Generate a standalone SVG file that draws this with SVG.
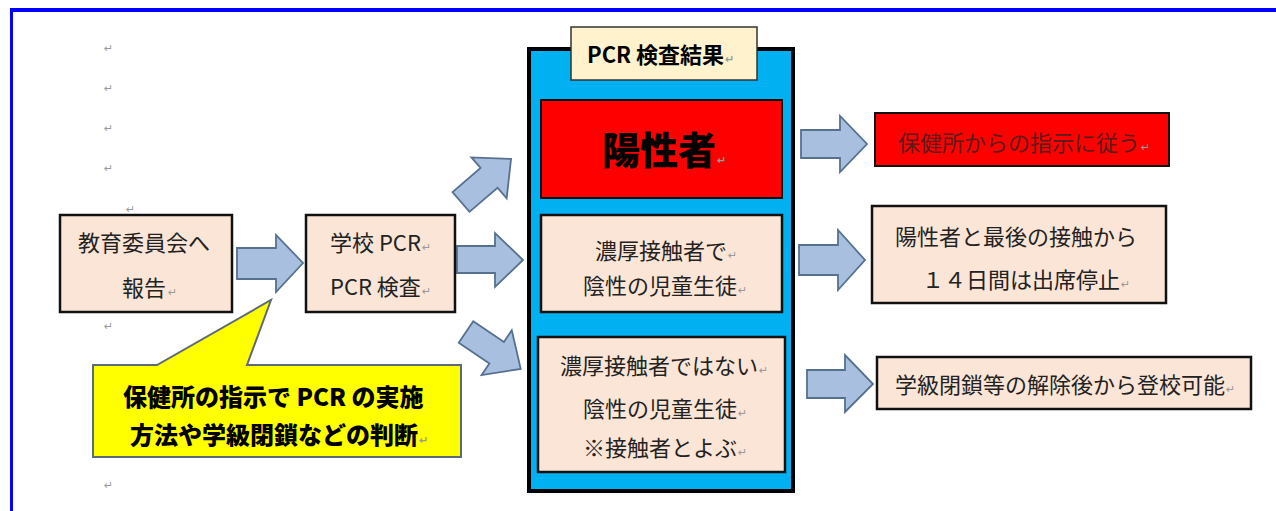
<svg xmlns="http://www.w3.org/2000/svg" width="1276" height="511" viewBox="0 0 1276 511">
<style>
text{font-family:"Noto Sans CJK JP","Liberation Sans",sans-serif;fill:#222;}
.t{font-size:22px;}
.rm{font-family:"DejaVu Sans",sans-serif;font-size:11px;fill:#999;}
.box{fill:#fbe5d6;stroke:#111;stroke-width:2.5;}
.arr{fill:#a9bfe0;stroke:#56708f;stroke-width:1.8;stroke-linejoin:miter;}
.heavy{font-weight:900;fill:#000;}
</style>
<defs>
<path id="ar" d="M0,-13 L37,-13 L37,-27 L66,0 L37,27 L37,13 L0,13 Z"/>
</defs>
<rect x="0" y="0" width="1276" height="511" fill="#fff"/>
<rect x="10" y="8" width="1266" height="4" fill="#0000ff"/>
<rect x="10" y="8" width="3" height="503" fill="#0000ff"/>
<g id="marks">
<text class="rm" x="104" y="52">↵</text>
<text class="rm" x="104" y="92">↵</text>
<text class="rm" x="104" y="132">↵</text>
<text class="rm" x="104" y="172">↵</text>
<text class="rm" x="126" y="213">↵</text>
<text class="rm" x="104" y="330">↵</text>
<text class="rm" x="104" y="489">↵</text>
</g>
<g id="connectors">
<polygon class="arr" points="237,248 276,248 276,235 303,263 276,292 276,279 237,279"/>
<use href="#ar" class="arr" transform="translate(461,202) rotate(-40.7)"/>
<polygon class="arr" points="457,246 495,246 495,233 523,260 495,287 495,273 457,273"/>
<use href="#ar" class="arr" transform="translate(466,332) rotate(34)"/>
<polygon class="arr" points="801,130 840,130 840,116 867,144 840,172 840,158 801,158"/>
<polygon class="arr" points="799,245 838,245 838,230 865,260 838,290 838,275 799,275"/>
<polygon class="arr" points="807,370 845,370 845,355 873,384 845,412 845,398 807,398"/>
</g>
<g id="report">
<rect class="box" x="60" y="215" width="172" height="97"/>
<text class="t" x="78" y="251">教育委員会へ</text>
<text class="t" x="122" y="296">報告<tspan class="rm" dx="2">↵</tspan></text>
</g>
<g id="school">
<rect class="box" x="306" y="215" width="149" height="97"/>
<text class="t" x="330" y="251">学校 PCR<tspan class="rm" dx="1">↵</tspan></text>
<text class="t" x="330" y="295">PCR 検査<tspan class="rm" dx="1">↵</tspan></text>
</g>
<g id="callout">
<path d="M93,365 L157,365 L271,300 L247,365 L461,365 L461,457 L93,457 Z" fill="#ffff00" stroke="#5d6b78" stroke-width="2"/>
<text class="heavy" font-size="24" x="123" y="406">保健所の指示で PCR の実施</text>
<text class="heavy" font-size="24" x="130" y="444">方法や学級閉鎖などの判断<tspan class="rm" dx="1">↵</tspan></text>
</g>
<g id="results">
<rect x="529" y="49" width="264" height="442" fill="#00b0f0" stroke="#000" stroke-width="4"/>
<rect x="571" y="27" width="186" height="53" fill="#fff2cc" stroke="#333" stroke-width="1.5"/>
<text font-weight="700" font-size="22" x="587" y="63" style="fill:#000">PCR 検査結果<tspan class="rm" dx="1">↵</tspan></text>
</g>
<g id="positive">
<rect x="541" y="100" width="241" height="98" fill="#ff0000" stroke="#111" stroke-width="2"/>
<text class="heavy" font-size="38" x="602" y="164">陽性者<tspan class="rm" dx="1">↵</tspan></text>
</g>
<g id="close-contact">
<rect class="box" x="541" y="215" width="241" height="97"/>
<text class="t" x="595" y="259">濃厚接触者で<tspan class="rm" dx="1">↵</tspan></text>
<text class="t" x="583" y="294">陰性の児童生徒<tspan class="rm" dx="1">↵</tspan></text>
</g>
<g id="contact">
<rect class="box" x="538" y="337" width="247" height="135"/>
<text class="t" x="560" y="374">濃厚接触者ではない<tspan class="rm" dx="1">↵</tspan></text>
<text class="t" x="583" y="417">陰性の児童生徒<tspan class="rm" dx="1">↵</tspan></text>
<text class="t" x="583" y="456">※接触者とよぶ<tspan class="rm" dx="1">↵</tspan></text>
</g>
<g id="follow">
<rect x="875" y="113" width="294" height="53" fill="#ff0000" stroke="#111" stroke-width="2"/>
<text class="t" x="898" y="151" style="fill:#5c1a1a">保健所からの指示に従う<tspan class="rm" dx="1">↵</tspan></text>
</g>
<g id="suspend">
<rect class="box" x="872" y="206" width="294" height="97"/>
<text class="t" x="895" y="245">陽性者と最後の接触から</text>
<text class="t" x="922" y="288">１４日間は出席停止<tspan class="rm" dx="1">↵</tspan></text>
</g>
<g id="attend">
<rect class="box" x="877" y="357" width="374" height="52"/>
<text class="t" x="895" y="393">学級閉鎖等の解除後から登校可能<tspan class="rm" dx="1">↵</tspan></text>
</g>
</svg>
